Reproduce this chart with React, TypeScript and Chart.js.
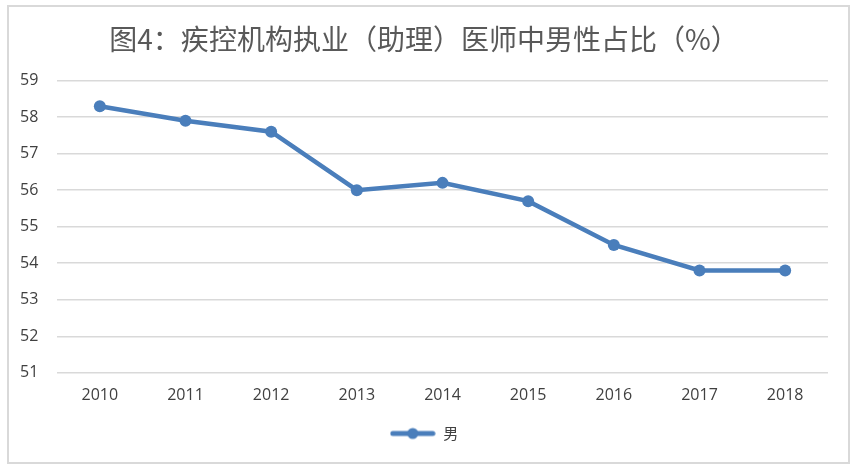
import React, { useEffect, useRef } from "react";
import { Chart, registerables } from "chart.js";

Chart.register(...registerables);

const TITLE = "图4：疾控机构执业（助理）医师中男性占比（%）";
const YEARS = ["2010", "2011", "2012", "2013", "2014", "2015", "2016", "2017", "2018"];
const MALE_SHARE = [58.3, 57.9, 57.6, 56.0, 56.2, 55.7, 54.5, 53.8, 53.8];
const SERIES_LABEL = "男";
const Y_MIN = 51;
const Y_MAX = 59;

const LINE_COLOR = "#4a7ebb";
const TEXT_COLOR = "#595959";
const TICK_COLOR = "#404040";
const GRID_COLOR = "#d9d9d9";

function makeLegendIcon(): HTMLCanvasElement {
  const c = document.createElement("canvas");
  c.width = 46;
  c.height = 14;
  const ctx = c.getContext("2d")!;
  ctx.strokeStyle = LINE_COLOR;
  ctx.lineWidth = 5;
  ctx.lineCap = "round";
  ctx.beginPath();
  ctx.moveTo(3, 7);
  ctx.lineTo(43, 7);
  ctx.stroke();
  ctx.fillStyle = LINE_COLOR;
  ctx.beginPath();
  ctx.arc(23, 7, 5.5, 0, Math.PI * 2);
  ctx.fill();
  return c;
}

export default function App() {
  const ref = useRef<HTMLCanvasElement | null>(null);

  useEffect(() => {
    if (!ref.current) return;
    const icon = makeLegendIcon();
    const chart = new Chart(ref.current, {
      type: "line",
      data: {
        labels: YEARS,
        datasets: [
          {
            label: SERIES_LABEL,
            data: MALE_SHARE,
            borderColor: LINE_COLOR,
            backgroundColor: LINE_COLOR,
            borderWidth: 4.5,
            pointRadius: 6,
            pointBackgroundColor: LINE_COLOR,
            pointBorderColor: LINE_COLOR,
            pointBorderWidth: 0,
            tension: 0,
            fill: false,
          },
        ],
      },
      options: {
        responsive: false,
        animation: false,
        devicePixelRatio: 1,
        layout: { padding: { top: 14, left: 20, right: 31, bottom: 20 } },
        plugins: {
          title: {
            display: true,
            text: TITLE,
            color: TEXT_COLOR,
            font: { family: "'Noto Sans CJK SC', sans-serif", size: 28, weight: "normal" },
            padding: { top: 9, bottom: 24 },
          },
          legend: {
            display: true,
            position: "bottom",
            labels: {
              color: TICK_COLOR,
              font: { family: "'Noto Sans CJK SC', sans-serif", size: 15 },
              usePointStyle: true,
              pointStyleWidth: 46,
              padding: 8,
              generateLabels: (ch) =>
                ch.data.datasets.map((ds, i) => ({
                  text: ds.label as string,
                  pointStyle: icon,
                  fillStyle: LINE_COLOR,
                  strokeStyle: LINE_COLOR,
                  lineWidth: 0,
                  hidden: false,
                  datasetIndex: i,
                  fontColor: TICK_COLOR,
                })),
            },
          },
          tooltip: { enabled: false },
        },
        scales: {
          x: {
            offset: true,
            grid: { display: false, drawTicks: false },
            border: { display: false },
            ticks: {
              color: TICK_COLOR,
              font: { family: "'Open Sans', sans-serif", size: 16 },
              padding: 13,
              maxRotation: 0,
            },
          },
          y: {
            min: Y_MIN,
            max: Y_MAX,
            grid: { color: GRID_COLOR, lineWidth: 1.5, drawTicks: false },
            border: { display: false },
            ticks: {
              stepSize: 1,
              color: TICK_COLOR,
              font: { family: "'Open Sans', sans-serif", size: 16 },
              crossAlign: "far",
              padding: 0,
            },
            afterFit: (scale: any) => {
              scale.width = 37;
            },
          },
        },
      },
    });
    return () => chart.destroy();
  }, []);

  return (
    <div style={{ position: "absolute", left: 0, top: 0, width: 859, height: 471, background: "#fff" }}>
      <div
        style={{
          position: "absolute",
          left: 7,
          top: 5,
          width: 843,
          height: 459,
          boxSizing: "border-box",
          border: "2px solid #d9d9d9",
        }}
      />
      <canvas
        ref={ref}
        width={859}
        height={471}
        style={{ position: "absolute", left: 0, top: 0, display: "block" }}
      />
    </div>
  );
}
